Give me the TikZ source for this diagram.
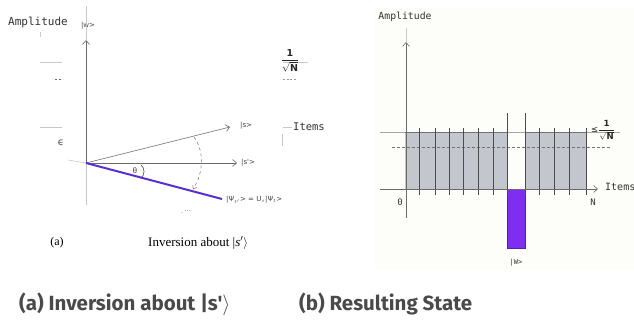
\documentclass[tikz,border=0pt]{standalone}
\usepackage{fontspec}
\usetikzlibrary{arrows.meta}
\newfontfamily\capfont{Fira Sans}
\newfontfamily\monof{DejaVu Sans Mono}
\newfontfamily\sansf{DejaVu Sans}
\newfontfamily\serf{Liberation Serif}
\definecolor{axisgray}{HTML}{6A6A6A}
\definecolor{lightgray2}{HTML}{C8C8C8}
\definecolor{bargray}{HTML}{C3C6CC}
\definecolor{purpA}{HTML}{5A2FD2}
\definecolor{purpB}{HTML}{7E2EF0}
\definecolor{captgray}{HTML}{4A4A4A}
\definecolor{panelbg}{HTML}{FDFDFA}
\newcommand{\sfrac}[1]{$\displaystyle\frac{\hbox{\sansf\bfseries\fontsize{#1}{#1}\selectfont 1}}{\sqrt{\hbox{\sansf\bfseries\fontsize{#1}{#1}\selectfont N}}}$}
\tikzset{
  axisline/.style={draw=axisgray, line width=0.6pt},
  vecarrow/.style={draw=axisgray, line width=0.6pt, -{Straight Barb[length=4pt,width=7pt]}},
  monolabel/.style={font=\monof, text=black!80, inner sep=0pt},
  smalllabel/.style={font=\sansf\fontsize{7}{8}\selectfont, text=black!75, inner sep=0pt},
  faint/.style={draw=lightgray2, line width=0.6pt},
  caption/.style={font=\capfont\bfseries\fontsize{20.5}{24}\selectfont, text=captgray, inner sep=0pt, anchor=west},
  barline/.style={draw=black!70, line width=0.6pt}
}
\begin{document}
\begin{tikzpicture}[x=1pt,y=-1pt]
\useasboundingbox (0,0) rectangle (634,324);
\fill[white] (0,0) rectangle (634,324);
% ---------------- left panel ----------------
\node[monolabel, font=\monof\fontsize{11}{12}\selectfont, anchor=west] (ampA) at (8,22) {Amplitude};
\node[smalllabel] (wlab) at (88,26) {|w>};
\coordinate (O) at (86,163);
\coordinate (Ytop) at (86,40);
\coordinate (Ybot) at (86,205);
\coordinate (Yfaint) at (86,6);
\draw[faint] (Yfaint) -- (Ytop);
\draw[faint] (O) -- (Ybot);
\draw[vecarrow] (O) -- (Ytop);
\coordinate (Oleft) at (68,160);
\draw[faint] (Oleft) -- (O);
\coordinate (Stip) at (230,127);
\coordinate (Sptip) at (237,163);
\coordinate (Ptip) at (222,199);
\draw[vecarrow] (O) -- (Stip);
\draw[vecarrow] (O) -- (Sptip);
\draw[draw=purpA, line width=2pt] (O) -- (Ptip);
\node[smalllabel, anchor=west] (slab) at (240,126) {|s>};
\node[smalllabel, anchor=west] (splab) at (241,163) {|s'>};
\node[smalllabel, anchor=west] (plab) at (226,200) {|Ψ$_{t'}$> = U$_s$|Ψ$_t$>};
% dashed arc
\coordinate (arcA) at (194,137);
\coordinate (arcB) at (193,189);
\draw[draw=axisgray, dashed, line width=0.5pt, -{Straight Barb[length=3pt,width=5pt]}] (arcA) .. controls (205,152) and (203,174) .. (arcB);
% theta
\node[smalllabel, font=\sansf\fontsize{7.5}{8}\selectfont] (th) at (135,171) {θ};
\coordinate (thA) at (141,165);
\coordinate (thB) at (141,178);
\draw[draw=black!70, line width=0.6pt] (thA) .. controls (145,168) and (145,175) .. (thB);
\node[smalllabel, text=black!55] (dots) at (186,212) {.\,···};
% left dash marks
\coordinate (m1a) at (40,62); \coordinate (m1b) at (62,62);
\draw[faint] (m1a) -- (m1b);
\coordinate (m2a) at (55,79); \coordinate (m2b) at (62,79);
\draw[draw=black!60, line width=0.8pt, dash pattern=on 2pt off 1.5pt] (m2a) -- (m2b);
\coordinate (m3a) at (40,127); \coordinate (m3b) at (62,127);
\draw[faint] (m3a) -- (m3b);
\coordinate (m4a) at (40,32); \coordinate (m4b) at (40,37);
\draw[faint] (m4a) -- (m4b);
\node[font=\sansf\fontsize{10}{11}\selectfont, text=black!70, inner sep=0pt] (eps) at (61,143) {ϵ};
% 1/sqrt N
\coordinate (f1a) at (283,62); \coordinate (f1b) at (308,62);
\draw[faint] (f1a) -- (f1b);
\node[text=black!85, inner sep=0pt] (frac) at (290,61) {\sfrac{9.5}};
\coordinate (f2a) at (283,79); \coordinate (f2b) at (297,79);
\draw[draw=black!40, line width=0.6pt, dash pattern=on 2pt off 1.5pt] (f2a) -- (f2b);
% Items
\node[monolabel, font=\monof\fontsize{10.5}{12}\selectfont, anchor=west] (itemsA) at (293,127) {Items};
\coordinate (it1a) at (283,127); \coordinate (it1b) at (292,127);
\draw[faint] (it1a) -- (it1b);
\coordinate (it2a) at (282,134); \coordinate (it2b) at (282,146);
\draw[faint] (it2a) -- (it2b);
% sub caption
\node[font=\serf\fontsize{12}{14}\selectfont, inner sep=0pt] (sa) at (57,243) {(a)};
\node[font=\serf\fontsize{13}{15}\selectfont, inner sep=0pt, anchor=west] (sinv) at (148,243) {Inversion about |\textit{s}$'\rangle$};
% ---------------- right panel ----------------
\fill[panelbg] (375,8) rectangle (634,270);
\node[monolabel, font=\monof\fontsize{9.8}{11}\selectfont] (ampB) at (405,17) {Amplitude};
\coordinate (YBtop) at (406,42);
\coordinate (YBbot) at (406,218);
\coordinate (YBfaint) at (406,28);
\draw[faint] (YBfaint) -- (YBtop);
% bars
\fill[bargray] (405,132) rectangle (507,189);
\fill[bargray] (525,132) rectangle (586,189);
\fill[purpB] (507,189) rectangle (525,248);
\draw[draw=purpA!80!black, line width=0.6pt] (507,189) rectangle (525,248);
% reference lines
\coordinate (topL) at (380,132); \coordinate (topR) at (620,132);
\draw[draw=black!35, line width=0.6pt] (topL) -- (topR);
\draw[draw=black!55, line width=0.6pt] (405,132) -- (507,132) (525,132) -- (586,132);
\coordinate (dashL) at (392,147); \coordinate (dashR) at (610,147);
\draw[draw=black!55, line width=0.6pt, dash pattern=on 3pt off 2pt] (dashL) -- (dashR);
% vertical bar lines
\foreach \xx in {419,435,449,463,478,493,539,554,569} {
  \draw[barline] (\xx,128) -- (\xx,195);
}
\draw[barline] (507,113) -- (507,195);
\draw[barline] (525,113) -- (525,195);
\draw[barline] (586,128) -- (586,195);
% axes
\draw[vecarrow] (YBbot) -- (YBtop);
\coordinate (XL) at (380,189);
\coordinate (XR) at (598,189);
\draw[vecarrow] (XL) -- (XR);
\node[monolabel, font=\monof\fontsize{10}{11}\selectfont, anchor=west] (itemsB) at (605,187) {Items};
\node[monolabel, font=\monof\fontsize{9}{10}\selectfont] (zero) at (400,202) {0};
\node[monolabel, font=\monof\fontsize{9}{10}\selectfont] (Nlab) at (593,202) {N};
\node[font=\sansf\fontsize{8.5}{9}\selectfont, text=black!85, inner sep=0pt] (leq) at (603,130) {≤\sfrac{8.5}};
\node[monolabel, font=\monof\fontsize{7}{8}\selectfont] (wket) at (516,263) {|W>};
% ---------------- captions ----------------
\node[caption] (capA) at (19,304) {(a) Inversion about |s'$\rangle$};
\node[caption] (capB) at (299,304) {(b) Resulting State};
\end{tikzpicture}
\end{document}
